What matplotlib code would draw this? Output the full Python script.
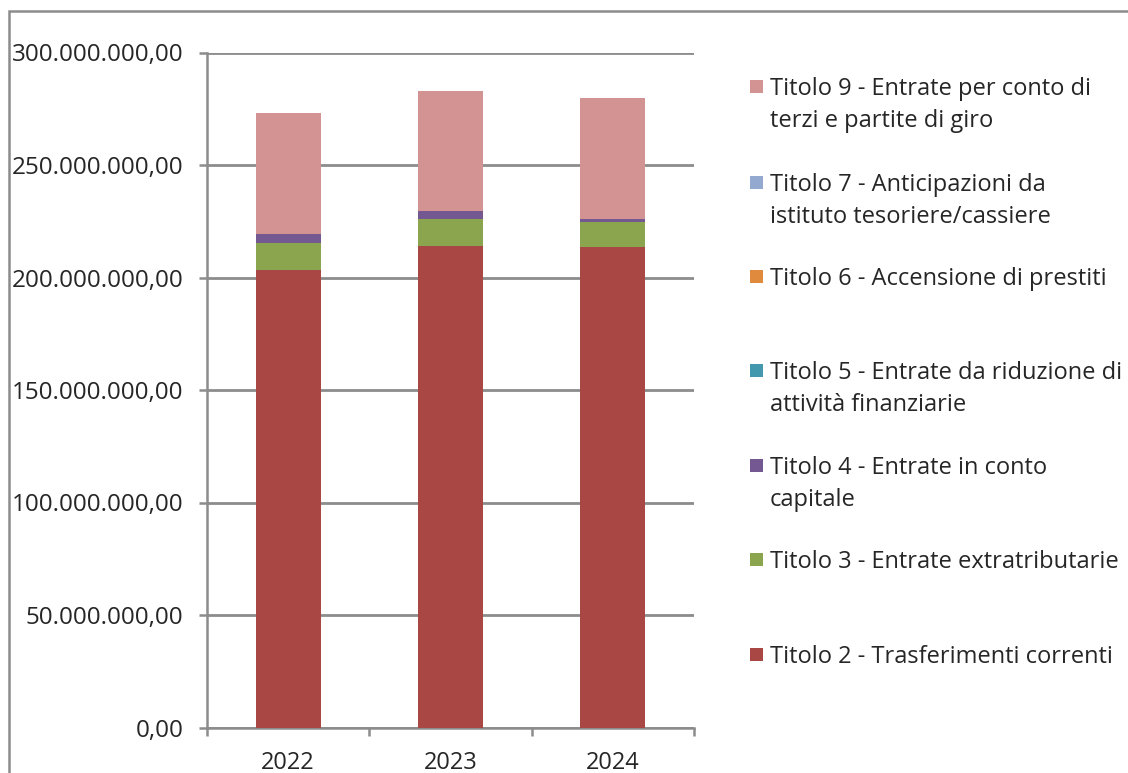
import matplotlib.pyplot as plt
import matplotlib.patches as mpatches
import numpy as np

# Data (euro)
years = ['2022', '2023', '2024']
titolo2 = [203.3e6, 214.2e6, 213.6e6]
titolo3 = [12.0e6, 11.8e6, 11.2e6]
titolo4 = [4.0e6, 3.6e6, 1.2e6]
titolo5 = [0, 0, 0]
titolo6 = [0, 0, 0]
titolo7 = [0, 0, 0]
titolo9 = [53.6e6, 53.4e6, 53.6e6]

series = [
    ('Titolo 2 - Trasferimenti correnti', titolo2, '#A94744'),
    ('Titolo 3 - Entrate extratributarie', titolo3, '#8BA54E'),
    ('Titolo 4 - Entrate in conto\ncapitale', titolo4, '#735891'),
    ('Titolo 5 - Entrate da riduzione di\nattività finanziarie', titolo5, '#4398AD'),
    ('Titolo 6 - Accensione di prestiti', titolo6, '#E08A3E'),
    ('Titolo 7 - Anticipazioni da\nistituto tesoriere/cassiere', titolo7, '#93A9CF'),
    ('Titolo 9 - Entrate per conto di\nterzi e partite di giro', titolo9, '#D29392'),
]

plt.rcParams['font.family'] = ['Open Sans', 'DejaVu Sans']

W, H = 1128, 773
fig = plt.figure(figsize=(W / 100, H / 100), dpi=100)

# outer frame
fig.patches.append(mpatches.Rectangle((9 / W, -0.05), 1.1, 1 - 11 / H + 0.05,
                                      transform=fig.transFigure, fill=False,
                                      edgecolor='#8c8c8c', linewidth=1.8))

ax = fig.add_axes([207 / W, 1 - 727.5 / H, (694 - 207) / W, (727.5 - 52.5) / H])

x = np.arange(len(years))
bottom = np.zeros(len(years))
for label, vals, color in series:
    ax.bar(x, vals, width=0.4, bottom=bottom, color=color, zorder=3)
    bottom += np.array(vals)

ax.set_xlim(-0.5, 2.5)
ax.set_ylim(0, 300e6)
ax.set_yticks(np.arange(0, 300e6 + 1, 50e6))
ax.set_yticklabels([f"{v:,.2f}".replace(',', 'X').replace('.', ',').replace('X', '.')
                    for v in np.arange(0, 300e6 + 1, 50e6)])
ax.set_xticks(x)
ax.set_xticklabels(years)
ax.set_xticks([-0.5, 0.5, 1.5, 2.5], minor=True)
ax.tick_params(axis='x', which='major', length=0, pad=17, labelsize=17, labelcolor='#262626')
ax.tick_params(axis='x', which='minor', length=6, width=1.8, color='#8c8c8c')
ax.tick_params(axis='y', length=6, width=1.8, color='#8c8c8c', labelsize=17.5, pad=11,
               labelcolor='#262626')
ax.yaxis.grid(True, color='#8c8c8c', linewidth=2, zorder=0)
for s in ['top', 'right']:
    ax.spines[s].set_visible(False)
for s in ['left', 'bottom']:
    ax.spines[s].set_color('#8c8c8c')
    ax.spines[s].set_linewidth(1.8)

# legend, reversed order, evenly spaced entries
legend_tops = [87, 183, 277, 371, 466, 560, 655]
for (label, vals, color), ytop in zip(series[::-1], legend_tops):
    fig.patches.append(mpatches.Rectangle((750 / W, 1 - (ytop + 6) / H), 13 / W, 13 / H,
                                          transform=fig.transFigure, facecolor=color,
                                          edgecolor='none'))
    fig.text(770 / W, 1 - (ytop - 10) / H, label, fontsize=17, va='top', ha='left',
             linespacing=1.42, color='#262626')

fig.savefig('out.png', dpi=100)
